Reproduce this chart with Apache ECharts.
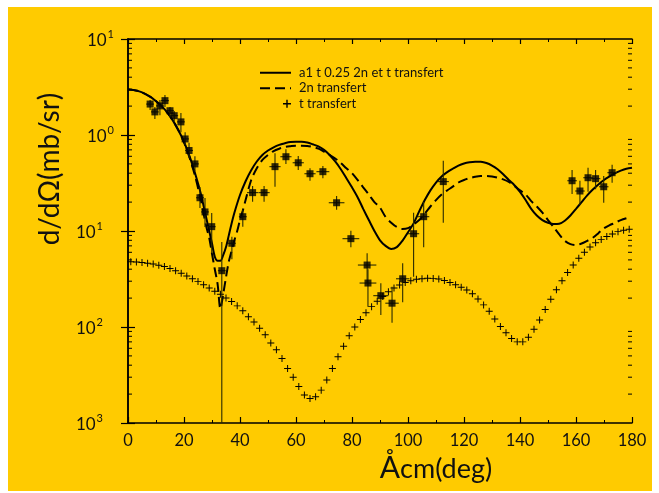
<!DOCTYPE html>
<html>
<head>
<meta charset="utf-8">
<script src="https://cdn.jsdelivr.net/npm/echarts@6/dist/echarts.min.js"></script>
<style>
html,body{margin:0;padding:0;background:#ffffff;width:659px;height:493px;overflow:hidden;}
#chart{position:absolute;left:8px;top:7px;width:644px;height:484px;}
</style>
</head>
<body>
<div id="chart"></div>
<script>
// ---- data ----
var seriesNames = ['a1 t 0.25 2n et t transfert', '2n transfert', 't transfert'];

var solidX = [0,4,8,10,12,14,16,18,20,22,24,26,28,30,31,32,33,34,35,36,37,38,40,42,44,46,48,50,52,54,56,58,60,62,64,66,68,70,72,74,76,78,80,82,84,86,88,90,92,94,96,98,100,102,104,106,108,110,112,114,116,118,120,122,124,126,128,130,132,134,136,138,140,142,144,146,148,150,152,154,156,158,160,162,164,166,168,170,172,174,176,178,180];
var solidY = [2.97,2.85,2.5,2.25,2.0,1.72,1.42,1.12,0.85,0.60,0.395,0.245,0.135,0.074,0.054,0.049,0.049,0.056,0.068,0.090,0.12,0.155,0.237,0.33,0.43,0.53,0.62,0.69,0.745,0.79,0.82,0.845,0.85,0.85,0.835,0.80,0.76,0.70,0.62,0.53,0.44,0.355,0.285,0.225,0.17,0.13,0.10,0.08,0.07,0.065,0.068,0.079,0.097,0.12,0.16,0.21,0.265,0.32,0.37,0.41,0.445,0.48,0.505,0.52,0.527,0.525,0.51,0.48,0.44,0.39,0.34,0.30,0.255,0.21,0.17,0.145,0.13,0.122,0.118,0.119,0.128,0.145,0.17,0.20,0.235,0.27,0.305,0.34,0.37,0.40,0.425,0.445,0.455];

var dashX = [0,4,8,10,12,14,16,18,20,22,24,26,28,29,30,31,32,33,34,35,36,37,38,39,40,41,42,44,46,48,50,52,54,56,58,60,62,64,66,68,70,72,74,76,78,80,82,84,86,88,90,92,94,96,98,100,102,104,106,108,110,112,114,116,118,120,122,124,126,128,130,132,134,136,138,140,142,144,146,148,150,152,154,156,158,160,162,164,166,168,170,172,174,176,178];
var dashY = [2.97,2.85,2.5,2.25,2.0,1.72,1.42,1.12,0.84,0.58,0.37,0.21,0.11,0.085,0.058,0.040,0.028,0.0155,0.022,0.033,0.048,0.062,0.08,0.10,0.13,0.163,0.21,0.34,0.45,0.55,0.62,0.68,0.72,0.75,0.765,0.775,0.775,0.77,0.75,0.72,0.67,0.62,0.57,0.51,0.45,0.40,0.34,0.285,0.24,0.20,0.175,0.14,0.122,0.11,0.105,0.107,0.117,0.13,0.152,0.18,0.21,0.24,0.265,0.29,0.32,0.34,0.355,0.368,0.375,0.375,0.37,0.36,0.345,0.325,0.295,0.265,0.24,0.205,0.18,0.155,0.13,0.11,0.092,0.079,0.073,0.0715,0.074,0.079,0.085,0.095,0.107,0.115,0.122,0.13,0.136];

var tX = [1,3,5,7,9,11,13,15,17,19,21,23,25,27,29,31,33,35,37,39,41,43,45,47,49,51,53,55,57,59,61,63,65,67,69,71,73,75,77,79,81,83,85,87,89,91,93,95,97,99,101,103,105,107,109,111,113,115,117,119,121,123,125,127,129,131,133,135,137,139,141,143,145,147,149,151,153,155,157,159,161,163,165,167,169,171,173,175,177,179];
var tY = [0.0478,0.0475,0.0470,0.0462,0.0452,0.0440,0.0426,0.0406,0.0385,0.0362,0.0340,0.0318,0.0297,0.0275,0.0255,0.0236,0.0219,0.0201,0.0184,0.0166,0.0148,0.0128,0.0113,0.0097,0.0083,0.0068,0.0058,0.0047,0.0037,0.0030,0.0024,0.00196,0.0018,0.00188,0.0022,0.0028,0.0037,0.0049,0.0063,0.0081,0.0100,0.0120,0.0141,0.0163,0.0185,0.0208,0.0233,0.0255,0.0274,0.0290,0.0303,0.0314,0.0319,0.0322,0.0321,0.0316,0.0305,0.0290,0.0275,0.0260,0.0243,0.0222,0.0196,0.0170,0.0146,0.0121,0.0101,0.0087,0.0076,0.0070,0.0070,0.0078,0.0095,0.0118,0.0152,0.0195,0.0245,0.0304,0.0370,0.0442,0.0520,0.0600,0.0680,0.0755,0.0818,0.0874,0.0930,0.0985,0.1020,0.1040];

var expX = [7.9,9.6,11.4,13.2,15.0,16.5,18.9,20.4,21.8,23.9,25.7,27.5,29.9,33.5,37.1,41.0,44.5,48.6,52.5,56.4,60.8,65.0,69.6,74.5,79.6,85.4,85.7,90.3,94.3,98.1,102.0,105.6,112.6,158.6,161.4,164.3,167.0,169.9,172.9];
var expY = [2.10,1.74,2.01,2.28,1.79,1.59,1.37,0.91,0.69,0.50,0.222,0.158,0.111,0.0386,0.0745,0.141,0.251,0.251,0.468,0.594,0.514,0.395,0.415,0.197,0.0832,0.0442,0.0287,0.0212,0.0177,0.0318,0.0937,0.141,0.327,0.334,0.261,0.359,0.351,0.289,0.405];
var expLo = [1.82,1.47,1.61,1.96,1.54,1.37,1.07,0.79,0.575,0.42,0.174,0.110,0.059,0.001,0.0507,0.111,0.202,0.202,0.289,0.499,0.431,0.334,0.354,0.166,0.0676,0.0287,0.0163,0.0133,0.0111,0.0181,0.0334,0.0676,0.122,0.243,0.187,0.257,0.272,0.197,0.318];
var expHi = [2.32,1.96,2.32,2.61,1.96,1.78,1.69,1.07,0.83,0.60,0.287,0.221,0.154,0.077,0.087,0.166,0.294,0.294,0.644,0.71,0.604,0.45,0.475,0.232,0.1007,0.0586,0.040,0.0285,0.0263,0.0461,0.155,0.202,0.54,0.431,0.334,0.457,0.431,0.374,0.491];
var expXerr = [1.4,1.4,1.4,1.4,1.4,1.4,1.4,1.4,1.4,1.4,1.4,1.4,1.4,1.4,1.4,1.4,2.0,2.0,2.0,2.0,2.0,2.0,2.3,2.8,3.0,3.3,3.0,2.7,2.4,2.4,2.0,2.0,2.0,1.7,1.7,1.7,1.7,1.7,1.7];

var xTickLabels = ['0','20','40','60','80','100','120','140','160','180'];
var yTickValues = [0.001,0.01,0.1,1,10];
var yTickBase = ['10','10','10','10','10'];
var yTickSup = ['3','2','1','0','1'];
var yMinorMult = [2,3,4,5,6,7,8,9];
var xTitle = ['Å','cm(deg)'];
var yTitle = 'd/dΩ(mb/sr)';

// ---- build ----
function zip(a,b){var r=[];for(var i=0;i<a.length;i++)r.push([a[i],b[i]]);return r;}
var expData = [];
for (var i=0;i<expX.length;i++) expData.push([expX[i],expY[i],expLo[i],expHi[i],expXerr[i]]);
var minorVals = [];
for (var d=0; d<4; d++){ for (var k=0;k<yMinorMult.length;k++){ minorVals.push([yMinorMult[k]*yTickValues[d]]); } }

var FONT = 'Lato';
var chart = echarts.init(document.getElementById('chart'), null, {renderer:'canvas'});
var plusPath = 'path://M0,4.3H10V5.7H0Z M4.3,0H5.7V10H4.3Z';

var option = {
  backgroundColor: '#FFCB00',
  animation: false,
  textStyle: {fontFamily: FONT},
  grid: {left: 120, top: 32, width: 504, height: 384, containLabel: false},
  legend: {
    orient: 'vertical', left: 246, top: 53, itemWidth: 31, itemHeight: 8, itemGap: 0,
    itemStyle: {opacity: 0},
    textStyle: {fontFamily: FONT, fontSize: 13, color: '#111', lineHeight: 15.5, padding:[0,0,0,3]},
    data: [
      {name: seriesNames[0]},
      {name: seriesNames[1]},
      {name: seriesNames[2], icon: 'path://M0,4.9h0.1v0.2h-0.1z M23,4.3H31V5.7H23Z M26.3,1H27.7V9H26.3Z', itemStyle: {opacity: 1, color: '#000'}}
    ]
  },
  xAxis: [{
    type: 'value', min: 0, max: 180, interval: 20, position: 'bottom',
    axisLine: {show: true, lineStyle: {color: '#000', width: 1.5}},
    axisTick: {show: true, inside: true, length: 6, lineStyle: {color: '#000', width: 1.2}},
    minorTick: {show: true, splitNumber: 2, length: 3, lineStyle: {color: '#000', width: 1}},
    splitLine: {show: false},
    axisLabel: {fontFamily: FONT, fontSize: 16.5, color: '#111', margin: 9,
      formatter: function(v){ return xTickLabels[Math.round(v/20)]; }}
  },{
    type: 'value', min: 0, max: 180, interval: 20, position: 'top',
    axisLine: {show: true, lineStyle: {color: '#000', width: 1.5}},
    axisTick: {show: true, inside: true, length: 5, lineStyle: {color: '#000', width: 1.2}},
    minorTick: {show: true, splitNumber: 2, length: 3, lineStyle: {color: '#000', width: 1}},
    splitLine: {show: false}, axisLabel: {show: false}
  }],
  yAxis: [{
    type: 'log', logBase: 10, min: 0.001, max: 10, position: 'left',
    axisLine: {show: true, lineStyle: {color: '#000', width: 1.5}},
    axisTick: {show: true, inside: true, length: 7, lineStyle: {color: '#000', width: 1.2}},
    splitLine: {show: false},
    axisLabel: {
      fontFamily: FONT, color: '#111', margin: 14, align: 'right',
      formatter: function(v){
        var idx = -1;
        for (var j=0;j<yTickValues.length;j++){ if (Math.abs(Math.log10(v)-Math.log10(yTickValues[j]))<0.01) idx=j; }
        if (idx<0) return '';
        return '{b|' + yTickBase[idx] + '}{' + (yTickValues[idx] < 1 ? 'n' : 's') + '|' + yTickSup[idx] + '}';
      },
      rich: {
        b: {fontFamily: FONT, fontSize: 17, color: '#111', verticalAlign: 'bottom', lineHeight: 20},
        s: {fontFamily: FONT, fontSize: 11, color: '#111', verticalAlign: 'top', lineHeight: 20, padding: [0,0,0,1]},
        n: {fontFamily: FONT, fontSize: 11, color: '#111', verticalAlign: 'top', lineHeight: 20, padding: [0,11,0,1]}
      }
    }
  },{
    type: 'log', logBase: 10, min: 0.001, max: 10, position: 'right',
    axisLine: {show: true, lineStyle: {color: '#000', width: 1.5}},
    axisTick: {show: true, inside: true, length: 7, lineStyle: {color: '#000', width: 1.2}},
    splitLine: {show: false}, axisLabel: {show: false}
  }],
  graphic: [
    {type: 'text', x: 42, y: 162, rotation: Math.PI/2,
      style: {text: yTitle, fontFamily: FONT, fontSize: 28, fill: '#111', textAlign: 'center', textVerticalAlign: 'middle'}},
    {type: 'text', x: 428, y: 461,
      style: {text: '{a|' + xTitle[0] + '}{c|' + xTitle[1] + '}', fontFamily: FONT, fill: '#111', textAlign: 'center', textVerticalAlign: 'middle',
        rich: {a: {fontFamily: FONT, fontSize: 30, fill: '#111', verticalAlign:'bottom'}, c: {fontFamily: FONT, fontSize: 27, fill: '#111', verticalAlign:'bottom'}}}}
  ],
  series: [
    {
      name: seriesNames[0], type: 'line', data: zip(solidX, solidY), smooth: 0.3,
      showSymbol: false, symbol: 'none', clip: true,
      lineStyle: {color: '#000', width: 2}, itemStyle: {color: '#000'}, z: 3
    },
    {
      name: seriesNames[1], type: 'line', data: zip(dashX, dashY), smooth: 0.3,
      showSymbol: false, symbol: 'none', clip: true,
      lineStyle: {color: '#000', width: 2, type: [10, 5]}, itemStyle: {color: '#000'}, z: 3
    },
    {
      name: seriesNames[2], type: 'line', data: zip(tX, tY),
      showSymbol: true, symbol: plusPath, symbolSize: 7,
      lineStyle: {width: 0, opacity: 0}, itemStyle: {color: '#000'}, z: 4
    },
    {
      name: 'exp-err', type: 'custom', data: expData, z: 5, silent: true,
      renderItem: function(params, api){
        var x = api.value(0), y = api.value(1), lo = api.value(2), hi = api.value(3), xe = api.value(4);
        var pLo = api.coord([x, lo]), pHi = api.coord([x, hi]);
        var pL = api.coord([x - xe, y]), pR = api.coord([x + xe, y]);
        var st = {stroke: '#2a2a00', lineWidth: 1.1};
        return {type: 'group', children: [
          {type: 'line', shape: {x1: pLo[0], y1: pLo[1], x2: pHi[0], y2: pHi[1]}, style: st},
          {type: 'line', shape: {x1: pL[0], y1: pL[1], x2: pR[0], y2: pR[1]}, style: st}
        ]};
      }
    },
    {
      name: 'exp', type: 'scatter', data: zip(expX, expY), symbol: 'rect', symbolSize: 7,
      itemStyle: {color: '#000'}, z: 6, silent: true
    },
    {
      name: 'minor-ticks', type: 'custom', data: minorVals, z: 2, silent: true,
      renderItem: function(params, api){
        var v = api.value(0);
        var pl = api.coord([0, v]), pr = api.coord([180, v]);
        var st = {stroke: '#000', lineWidth: 1};
        return {type: 'group', children: [
          {type: 'line', shape: {x1: pl[0], y1: pl[1], x2: pl[0] + 4, y2: pl[1]}, style: st},
          {type: 'line', shape: {x1: pr[0], y1: pr[1], x2: pr[0] - 4, y2: pr[1]}, style: st}
        ]};
      }
    }
  ]
};
chart.setOption(option);
</script>
</body>
</html>
